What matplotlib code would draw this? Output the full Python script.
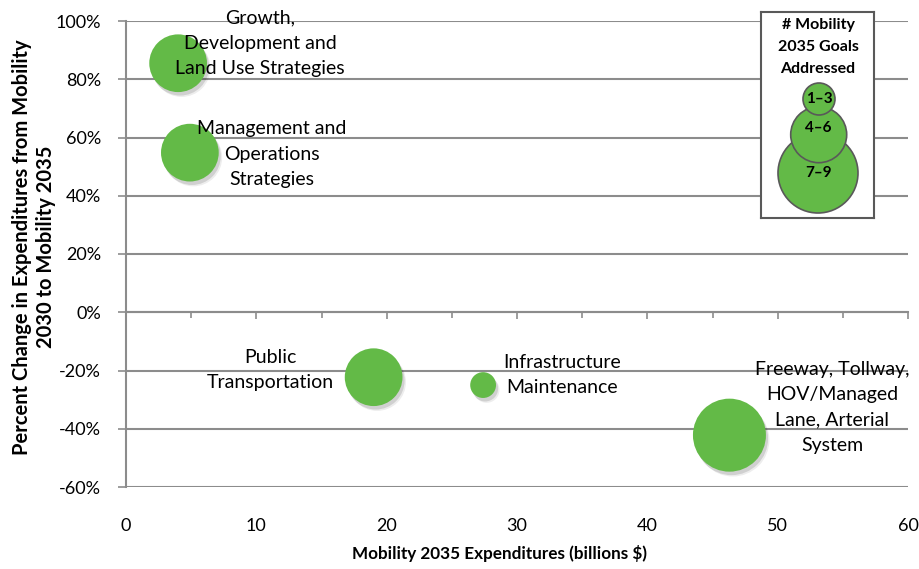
import matplotlib.pyplot as plt
import matplotlib.patheffects as pe
from matplotlib.patches import Circle
from matplotlib.ticker import FuncFormatter, MultipleLocator
import numpy as np

plt.rcParams["font.family"] = ["Lato", "DejaVu Sans"]

# bubble data
strategies = [
    "Growth,\nDevelopment and\nLand Use Strategies",
    "Management and\nOperations\nStrategies",
    "Public\nTransportation",
    "Infrastructure\nMaintenance",
    "Freeway, Tollway,\nHOV/Managed\nLane, Arterial\nSystem",
]
expenditures = [4.0, 4.9, 19.0, 27.4, 46.3]        # billions $
pct_change = [85.5, 54.8, -22.3, -25.0, -42.2]      # %
goals_addressed = [5, 5, 5, 1, 8]

legend_labels = ["1–3", "4–6", "7–9"]

GREEN = "#63BA47"
GRID = "#8C8C8C"

fig = plt.figure(figsize=(9.2, 5.69), dpi=100)
ax = fig.add_axes([126 / 920, 1 - 487 / 569, 782 / 920, 466 / 569])

ax.set_xlim(0, 60)
ax.set_ylim(-60, 100)

# bubble area proportional to goals addressed
max_d = 73 * 0.72
sizes = np.array(goals_addressed) / 8 * max_d ** 2
shadow = [
    pe.SimplePatchShadow(offset=(2.5, -3.5), shadow_rgbFace="k", alpha=0.07),
    pe.SimplePatchShadow(offset=(1.5, -2.5), shadow_rgbFace="k", alpha=0.12),
    pe.Normal(),
]
ax.scatter(expenditures, pct_change, s=sizes, color=GREEN, linewidths=0,
           zorder=3, path_effects=shadow)

# label centres
label_pos = [(10.3, 92.4), (11.2, 54.2), (11.05, -19.9), (33.45, -21.6), (54.2, -32.6)]
for txt, (tx, ty) in zip(strategies, label_pos):
    ax.text(tx, ty, txt, ha="center", va="center", fontsize=14,
            linespacing=1.6, zorder=4)

# axes styling
for s in ["top", "right", "bottom"]:
    ax.spines[s].set_visible(False)
ax.spines["left"].set_color(GRID)
ax.spines["left"].set_linewidth(1.5)

ax.yaxis.set_major_locator(MultipleLocator(20))
ax.yaxis.set_major_formatter(FuncFormatter(lambda v, p: f"{v:.0f}%"))
ax.tick_params(axis="y", direction="out", length=6, width=1.2, color=GRID,
               labelsize=13, pad=12)
ax.grid(axis="y", color=GRID, linewidth=1.5, zorder=0)
ax.set_axisbelow(True)

ax.xaxis.set_major_locator(MultipleLocator(10))
ax.tick_params(axis="x", length=0, labelsize=13, pad=22)
fig.text(500 / 920, 1 - 553 / 569, "Mobility 2035 Expenditures (billions $)",
         ha="center", va="center", fontsize=12.3, fontweight="bold")

# x axis line crossing at 0%
zero_frac = (0 - ax.get_ylim()[0]) / (ax.get_ylim()[1] - ax.get_ylim()[0])
zax = ax.secondary_xaxis(zero_frac)
zax.spines["bottom"].set_color(GRID)
zax.spines["bottom"].set_linewidth(1.5)
zax.xaxis.set_major_locator(MultipleLocator(10))
zax.xaxis.set_minor_locator(MultipleLocator(5))
zax.tick_params(axis="x", which="both", direction="out", color=GRID,
                width=1.2, labelbottom=False)
zax.tick_params(axis="x", which="major", length=5)
zax.tick_params(axis="x", which="minor", length=4)

fig.text(34 / 920, 1 - 247 / 569,
         "Percent Change in Expenditures from Mobility\n2030 to Mobility 2035",
         rotation=90, ha="center", va="center", fontsize=14.5,
         fontweight="bold", linespacing=1.2)

# legend box drawn in pixel units
lax = fig.add_axes([761 / 920, 1 - 218 / 569, 113 / 920, 206 / 569])
lax.set_xlim(761, 874)
lax.set_ylim(218, 12)
lax.set_xticks([])
lax.set_yticks([])
for s in lax.spines.values():
    s.set_color("#595959")
    s.set_linewidth(1.5)
lax.text(818, 47, "# Mobility\n2035 Goals\nAddressed", ha="center",
         va="center", fontsize=11.5, fontweight="bold", linespacing=1.75)
legend_circles = [(818, 173, 40), (818.7, 134.7, 28), (819, 99, 16)]
legend_text_y = [173, 128, 99]
for (cx, cy, r), lab, ty in zip(legend_circles, legend_labels[::-1], legend_text_y):
    lax.add_patch(Circle((cx, cy), r, facecolor=GREEN, edgecolor="#595959",
                         linewidth=1.2))
    lax.text(cx, ty, lab, ha="center", va="center", fontsize=11,
             fontweight="bold")

fig.savefig("out.png", dpi=100)
